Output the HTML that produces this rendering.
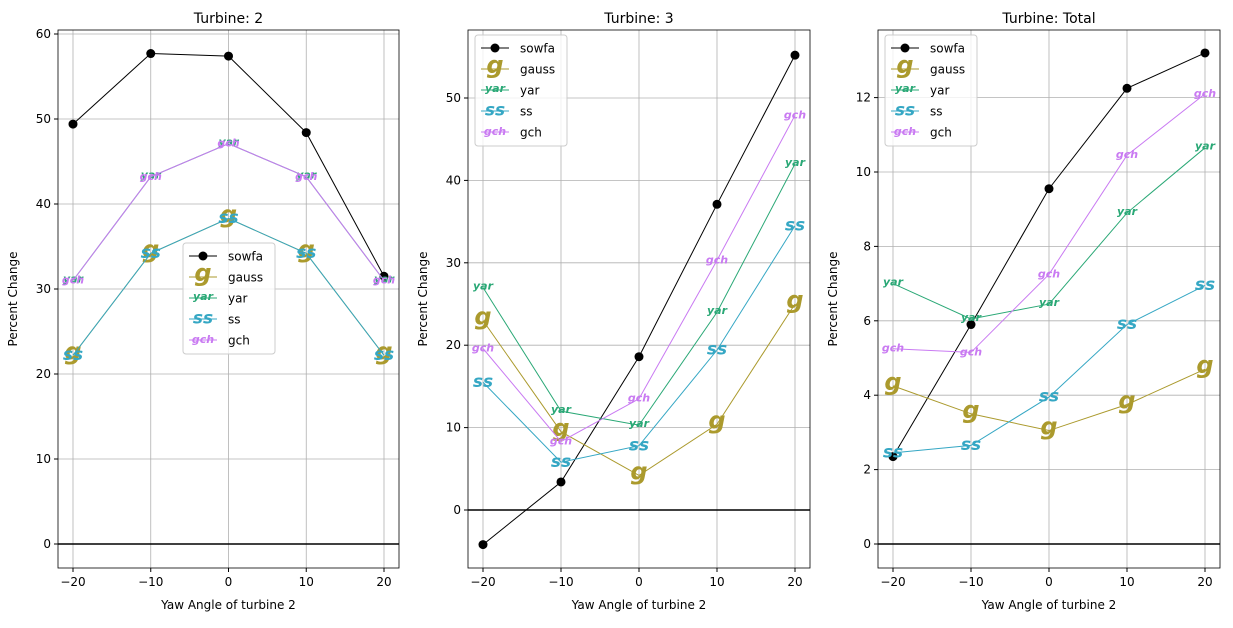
<!DOCTYPE html>
<html><head><meta charset="utf-8"><style>
body{margin:0;background:#fff;width:1233px;height:623px;overflow:hidden}
svg text{font-family:"DejaVu Sans","Liberation Sans",sans-serif}
</style></head><body>
<svg id="c" width="1233" height="623"></svg>
<script>
const xCats=[-20,-10,0,10,20];
const seriesNames=["sowfa","gauss","yar","ss","gch"];
const p1Sowfa=[49.4,57.7,57.4,48.4,31.5];
const p1Gauss=[22.2,34.2,38.3,34.2,22.2];
const p1Yar=[31,43.2,47.1,43.2,31];
const p1Ss=[22.2,34.2,38.3,34.2,22.2];
const p1Gch=[31,43.2,47.1,43.2,31];
const p2Sowfa=[-4.2,3.4,18.6,37.1,55.2];
const p2Gauss=[23,9.5,4.2,10.4,25];
const p2Yar=[27,12,10.3,24,42];
const p2Ss=[15.5,5.8,7.8,19.4,34.5];
const p2Gch=[19.6,8.3,13.5,30.3,47.9];
const p3Sowfa=[2.35,5.9,9.55,12.25,13.2];
const p3Gauss=[4.25,3.5,3.05,3.75,4.7];
const p3Yar=[7.0,6.05,6.45,8.9,10.65];
const p3Ss=[2.45,2.65,3.95,5.9,6.95];
const p3Gch=[5.25,5.15,7.25,10.45,12.1];
const xTicks=[-20,-10,0,10,20];
const yTicks1=[0,10,20,30,40,50,60];
const yTicks2=[0,10,20,30,40,50];
const yTicks3=[0,2,4,6,8,10,12];
const titles=["Turbine: 2","Turbine: 3","Turbine: Total"];

const svg=document.getElementById('c');
const NS="http://www.w3.org/2000/svg";
function mk(t,a,parent){const e=document.createElementNS(NS,t);for(const k in a)e.setAttribute(k,a[k]);(parent||svg).appendChild(e);return e;}
const colors={sowfa:"#000",gauss:"#ab9a2d",yar:"#2aa876",ss:"#35a7c4",gch:"#c97af2"};
const mtext={gauss:["g",24,0.17],yar:["yar",11,0.17],ss:["ss",17,0.27],gch:["gch",11,0.27]};

const panels=[
 {L:58,R:399,T:30,B:568,y0:544,ppu:8.5,ticks:yTicks1,data:[p1Sowfa,p1Gauss,p1Yar,p1Ss,p1Gch],leg:[183,243]},
 {L:468,R:810,T:30,B:568,y0:510,ppu:8.24,ticks:yTicks2,data:[p2Sowfa,p2Gauss,p2Yar,p2Ss,p2Gch],leg:[475,35]},
 {L:878,R:1220,T:30,B:568,y0:544,ppu:37.2,ticks:yTicks3,data:[p3Sowfa,p3Gauss,p3Yar,p3Ss,p3Gch],leg:[885,35]}
];
function marker(name,x,y,g){
  if(name==="sowfa"){const c=mk('circle',{cx:x,cy:y,r:4.5,fill:"#000"},g);return;}
  const [s,fs,off]=mtext[name];
  const t=mk('text',{x:x,y:y+fs*off,'text-anchor':'middle','font-size':fs,'font-weight':'bold','font-style':'italic',fill:colors[name]},g);
  t.textContent=s;
  
  
}
panels.forEach((p,pi)=>{
  const g=mk('g',{});
  
  
  const xs=v=>p.L+15+(v+20)/40*(p.R-p.L-30);
  const ys=v=>p.y0-v*p.ppu;
  xTicks.forEach(v=>{
    mk('line',{x1:xs(v),x2:xs(v),y1:p.T,y2:p.B,stroke:"#b0b0b0","stroke-width":0.8},g);
    mk('line',{x1:xs(v),x2:xs(v),y1:p.B,y2:p.B+4,stroke:"#000"},g);
    const t=mk('text',{x:xs(v),y:p.B+18,'text-anchor':'middle','font-size':12},g);t.textContent=v<0?"\u2212"+(-v):v;
    
  });
  p.ticks.forEach(v=>{
    mk('line',{x1:p.L,x2:p.R,y1:ys(v),y2:ys(v),stroke:"#b0b0b0","stroke-width":0.8},g);
    mk('line',{x1:p.L-4,x2:p.L,y1:ys(v),y2:ys(v),stroke:"#000"},g);
    const t=mk('text',{x:p.L-7,y:ys(v)+4,'text-anchor':'end','font-size':12},g);t.textContent=v;
    
  });
  mk('line',{x1:p.L,x2:p.R,y1:ys(0),y2:ys(0),stroke:"#000","stroke-width":1.5},g);
  const fr=mk('rect',{x:p.L,y:p.T,width:p.R-p.L,height:p.B-p.T,fill:"none",stroke:"#000","stroke-width":0.8},g);
  
  const tt=mk('text',{x:(p.L+p.R)/2,y:p.T-7,'text-anchor':'middle','font-size':14},g);tt.textContent=titles[pi];
  
  const xl=mk('text',{x:(p.L+p.R)/2,y:609,'text-anchor':'middle','font-size':12},g);xl.textContent="Yaw Angle of turbine 2";
  
  const yl=mk('text',{x:0,y:0,'text-anchor':'middle','font-size':12,transform:`translate(${p.L-41},${(p.T+p.B)/2}) rotate(-90)`},g);yl.textContent="Percent Change";
  
  seriesNames.forEach((n,si)=>{
    const d=p.data[si];
    const pl=mk('polyline',{points:d.map((v,i)=>xs(xCats[i])+","+ys(v)).join(" "),fill:"none",stroke:colors[n],"stroke-width":1},g);
    
    d.forEach((v,i)=>marker(n,xs(xCats[i]),ys(v),g));
  });
  const [lx,ly]=p.leg;
  const lg=mk('g',{},g);
  
  mk('rect',{x:lx,y:ly,width:92,height:111,rx:3,fill:"#fff","fill-opacity":0.8,stroke:"#ccc"},lg);
  seriesNames.forEach((n,si)=>{
    const yy=ly+13+si*21;
    mk('line',{x1:lx+6,x2:lx+34,y1:yy,y2:yy,stroke:colors[n],"stroke-width":1},lg);
    marker(n,lx+20,yy,lg);
    const t=mk('text',{x:lx+45,y:yy+4.5,'font-size':12},lg);t.textContent=n;
    
  });
});
</script>
</body></html>
